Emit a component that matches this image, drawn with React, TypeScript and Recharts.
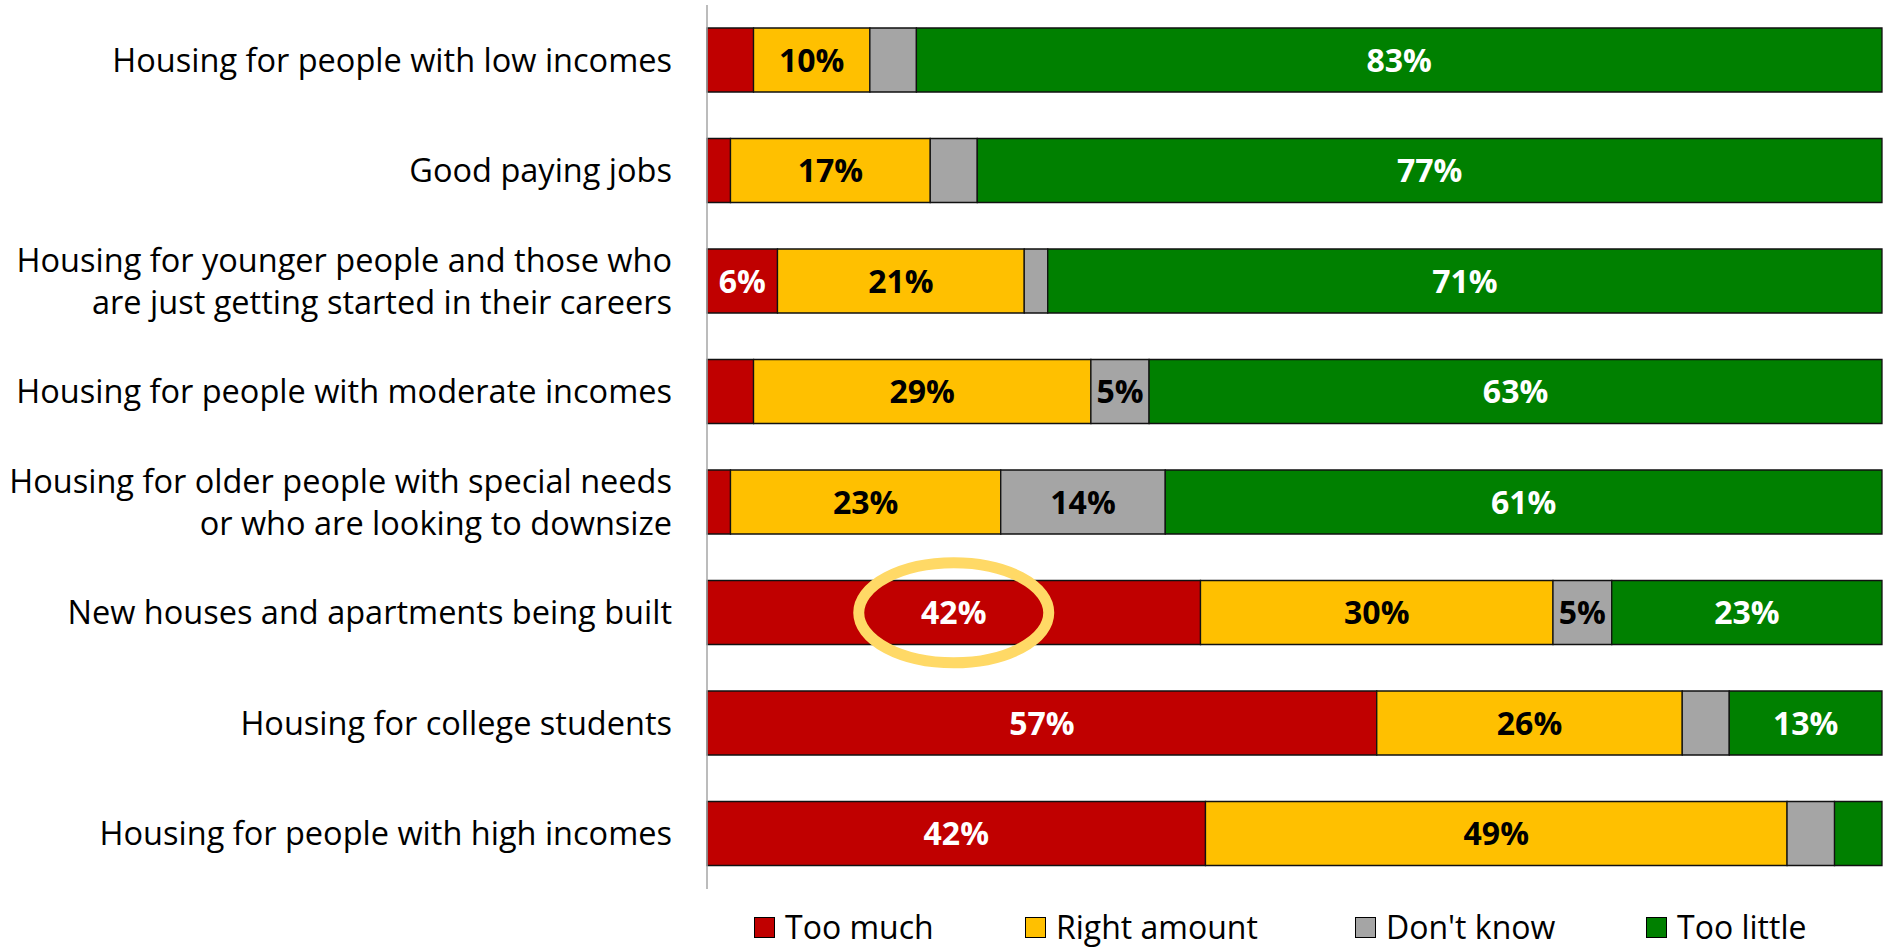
import React from "react";
import {
  BarChart,
  Bar,
  XAxis,
  YAxis,
  LabelList,
  Legend,
  ReferenceDot,
} from "recharts";

const categories = [
  "Housing for people with low incomes",
  "Good paying jobs",
  "Housing for younger people and those who\nare just getting started in their careers",
  "Housing for people with moderate incomes",
  "Housing for older people with special needs\nor who are looking to downsize",
  "New houses and apartments being built",
  "Housing for college students",
  "Housing for people with high incomes",
];

const tooMuch = [4, 2, 6, 4, 2, 42, 57, 42];
const rightAmount = [10, 17, 21, 29, 23, 30, 26, 49];
const dontKnow = [4, 4, 2, 5, 14, 5, 4, 4];
const tooLittle = [83, 77, 71, 63, 61, 23, 13, 4];

const seriesKeys = ["tooMuch", "rightAmount", "dontKnow", "tooLittle"];
const seriesNames = ["Too much", "Right amount", "Don't know", "Too little"];
const seriesValues = [tooMuch, rightAmount, dontKnow, tooLittle];
const seriesColors = ["#C00000", "#FFC000", "#A5A5A5", "#008000"];
const labelColors = ["#FFFFFF", "#000000", "#000000", "#FFFFFF"];

const highlightIndex = 5;

const FONT = "'Open Sans', 'Noto Sans', sans-serif";

// 100% stacked: normalise each row to its total (as the original chart does)
const data = categories.map((category, i) => {
  const total = seriesValues.reduce((s, arr) => s + arr[i], 0);
  const row: Record<string, any> = { category };
  seriesKeys.forEach((k, j) => {
    row[k] = (seriesValues[j][i] / total) * 100;
    row[k + "Raw"] = seriesValues[j][i];
  });
  return row;
});

const CategoryTick = (props: any) => {
  const { x, y, payload } = props;
  const lines = String(payload.value).split("\n");
  const lh = 42;
  const start = -((lines.length - 1) * lh) / 2;
  return (
    <text
      x={x - 35}
      y={y}
      textAnchor="end"
      fontFamily={FONT}
      fontSize={32.5}
      fill="#000"
    >
      {lines.map((l: string, i: number) => (
        <tspan key={i} x={x - 35} y={y + start + i * lh} dy="0.36em">
          {l}
        </tspan>
      ))}
    </text>
  );
};

const makeLabel = (color: string) => (props: any) => {
  const { x, y, width, height, value } = props;
  if (value == null || value < 5) return null;
  return (
    <text
      x={x + width / 2}
      y={y + height / 2}
      dy="0.36em"
      textAnchor="middle"
      fontFamily={FONT}
      fontWeight="bold"
      fontSize={32}
      fill={color}
    >
      {value}%
    </text>
  );
};

const itemWidths = [271, 330, 291, 170];

const LegendContent = () => (
  <div
    style={{
      display: "flex",
      flexDirection: "row",
      alignItems: "center",
      paddingLeft: 754,
      fontFamily: FONT,
      fontSize: 32,
      color: "#000",
      height: 44,
    }}
  >
    {seriesNames.map((n, i) => (
      <div
        key={n}
        style={{
          display: "flex",
          alignItems: "center",
          width: itemWidths[i],
          whiteSpace: "nowrap",
        }}
      >
        <span
          style={{
            display: "inline-block",
            width: 19,
            height: 19,
            background: seriesColors[i],
            border: "1.5px solid #000",
            marginRight: 10,
          }}
        />
        <span style={{ lineHeight: "44px" }}>{n}</span>
      </div>
    ))}
  </div>
);

const Ellipse = (props: any) => {
  const { cx, cy } = props;
  return (
    <ellipse
      cx={cx}
      cy={cy}
      rx={95}
      ry={50}
      fill="none"
      stroke="#FFD966"
      strokeWidth={11}
    />
  );
};

export default function App() {
  return (
    <div style={{ position: "absolute", left: 0, top: 0, background: "#fff" }}>
      <BarChart
        width={1886}
        height={949}
        data={data}
        layout="vertical"
        margin={{ top: 5, right: 4, bottom: 60, left: 0 }}
        barSize={64}
      >
        <XAxis type="number" domain={[0, 100]} hide />
        <YAxis
          type="category"
          dataKey="category"
          width={707}
          axisLine={{ stroke: "#A6A6A6", strokeWidth: 1.5 }}
          tickLine={false}
          tickSize={0}
          tickMargin={0}
          tick={<CategoryTick />}
          interval={0}
        />
        {seriesKeys.map((k, j) => (
          <Bar
            key={k}
            dataKey={k}
            name={seriesNames[j]}
            stackId="a"
            fill={seriesColors[j]}
            stroke="#111"
            strokeWidth={1.3}
            isAnimationActive={false}
          >
            <LabelList dataKey={k + "Raw"} content={makeLabel(labelColors[j])} />
          </Bar>
        ))}
        <ReferenceDot
          x={data[highlightIndex].tooMuch / 2}
          y={categories[highlightIndex]}
          r={50}
          shape={<Ellipse />}
          ifOverflow="visible"
        />
        <Legend
          layout="horizontal"
          verticalAlign="middle"
          align="center"
          content={<LegendContent />}
          wrapperStyle={{ position: "absolute", top: 905, left: 0, width: 1886, height: 44 }}
        />
      </BarChart>
    </div>
  );
}
